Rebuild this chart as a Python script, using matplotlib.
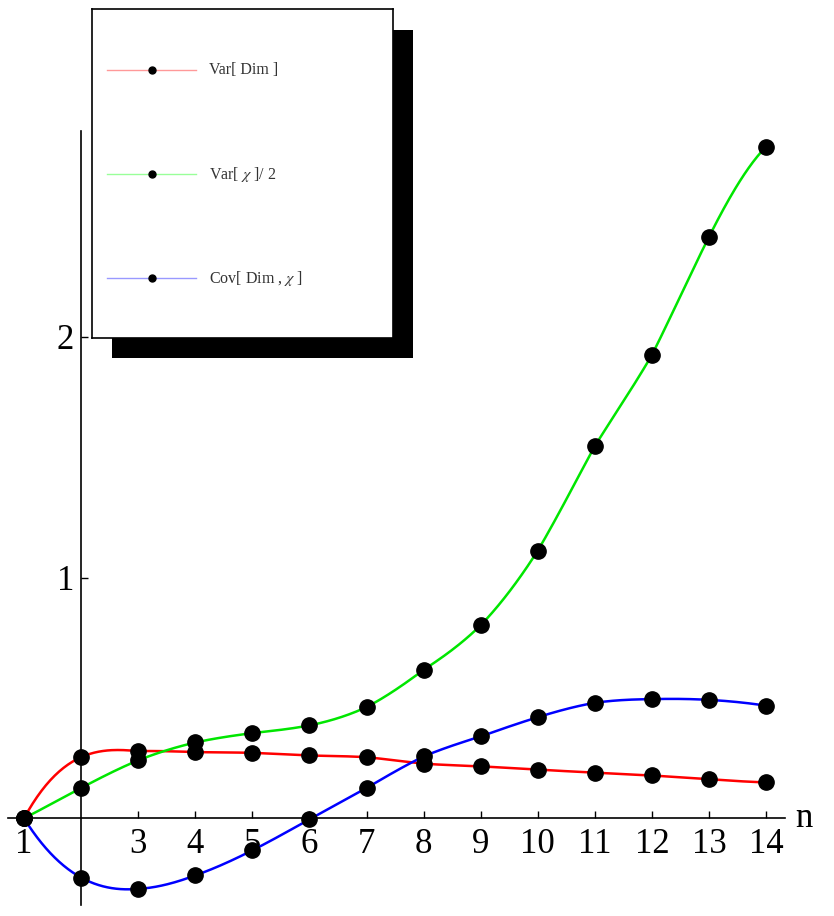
import numpy as np
import matplotlib
matplotlib.use("Agg")
import matplotlib.pyplot as plt
from matplotlib.patches import Rectangle

plt.rcParams['font.family'] = ['Liberation Serif', 'DejaVu Serif']
plt.rcParams['mathtext.fontset'] = 'stix'

# data
n = [1, 2, 3, 4, 5, 6, 7, 8, 9, 10, 11, 12, 13, 14]
var_dim = [0, 0.254, 0.279, 0.275, 0.272, 0.261, 0.254, 0.227, 0.216, 0.202, 0.190, 0.178, 0.162, 0.149]
var_chi_half = [0, 0.126, 0.241, 0.315, 0.354, 0.386, 0.462, 0.617, 0.802, 1.112, 1.547, 1.925, 2.416, 2.79]
cov_dim_chi = [0, -0.246, -0.293, -0.237, -0.133, -0.004, 0.126, 0.257, 0.340, 0.420, 0.480, 0.495, 0.492, 0.468]

labels = [r'Var[ Dim ]', r'Var[ $\chi$ ]/ 2', r'Cov[ Dim , $\chi$ ]']
colors = ['#ff0000', '#00e600', '#0000ff']
legend_colors = ['#ff9999', '#99ff99', '#9999ff']
xticks = [1, 3, 4, 5, 6, 7, 8, 9, 10, 11, 12, 13, 14]
yticks = [1, 2]

W, H = 834, 916


def local_cubic(x, y, num=40):
    # piecewise cubic through 4 neighbouring points, like Mathematica's Interpolation
    x = np.asarray(x, float)
    y = np.asarray(y, float)
    xs, ys = [], []
    for i in range(len(x) - 1):
        j0 = min(max(i - 1, 0), len(x) - 4)
        c = np.polyfit(x[j0:j0 + 4], y[j0:j0 + 4], 3)
        t = np.linspace(x[i], x[i + 1], num)
        xs.append(t)
        ys.append(np.polyval(c, t))
    return np.concatenate(xs), np.concatenate(ys)


fig = plt.figure(figsize=(W / 100, H / 100), dpi=100)
ax = fig.add_axes([8 / W, 11 / H, 777 / W, 774 / H])

for vals, col in zip([var_dim, var_chi_half, cov_dim_chi], colors):
    cx, cy = local_cubic(n, vals)
    ax.plot(cx, cy, color=col, lw=1.8, zorder=2)
    ax.plot(n, vals, 'o', color='black', ms=11, zorder=3)

ax.set_xlim(0.72, 14.33)
ax.set_ylim(-0.36, 2.855)
ax.spines['left'].set_position(('data', 2))
ax.spines['bottom'].set_position(('data', 0))
ax.spines['top'].set_visible(False)
ax.spines['right'].set_visible(False)
for s in ['left', 'bottom']:
    ax.spines[s].set_linewidth(1.2)
ax.set_xticks(xticks)
ax.set_yticks(yticks)
ax.tick_params(direction='in', length=5, width=1, labelsize=25, pad=7)
ax.tick_params(axis='y', pad=5)
ax.annotate('n', xy=(1, 0), xycoords=('axes fraction', 'data'), xytext=(10, 0),
            textcoords='offset pixels', ha='left', va='center', fontsize=25)
ax.patch.set_alpha(0)

# legend box with hard black shadow
fig.add_artist(Rectangle((112 / W, 1 - 358 / H), 301 / W, 328 / H,
                         transform=fig.transFigure, facecolor='black', edgecolor='none', zorder=5))
lax = fig.add_axes([92 / W, 1 - 338 / H, 301 / W, 329 / H], zorder=6)
lax.set_xlim(0, 301)
lax.set_ylim(329, 0)
lax.set_xticks([])
lax.set_yticks([])
for s in lax.spines.values():
    s.set_linewidth(1.2)
rows = [61, 165, 269]
for lab, col, yr in zip(labels, legend_colors, rows):
    lax.plot([15, 104], [yr, yr], color=col, lw=1)
    lax.plot([60], [yr], 'o', color='black', ms=5)
    lax.text(117, yr, lab, fontsize=11.5, color='#333333', va='center', ha='left')

fig.savefig('out.png', dpi=100)
